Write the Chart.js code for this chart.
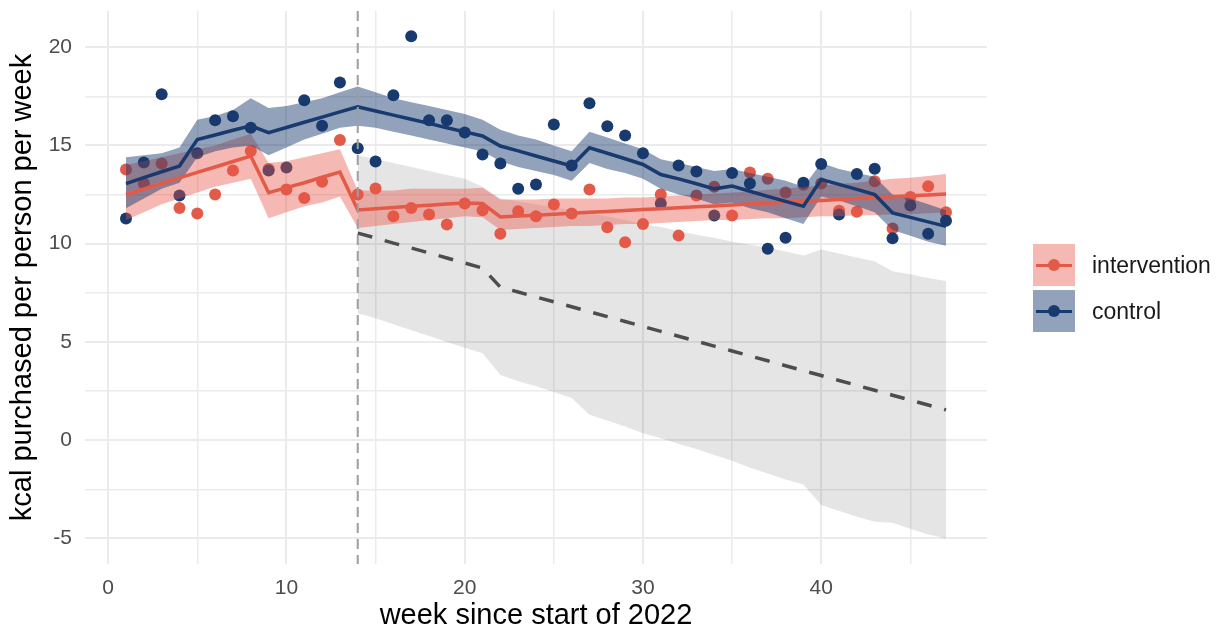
<!DOCTYPE html>
<html>
<head>
<meta charset="utf-8">
<script src="https://cdn.jsdelivr.net/npm/chart.js@4.4.0/dist/chart.umd.min.js"></script>
<style>
  body { margin: 0; background: #fff; font-family: 'Liberation Sans', Arial, sans-serif; }
  #wrap { position: relative; width: 1218px; height: 632px; }
  #legend { position: absolute; left: 1033px; top: 244px; }
  .item { display: flex; align-items: center; height: 42px; margin-bottom: 4px; }
  .key { position: relative; width: 42px; height: 42px; }
  .key .ln { position: absolute; left: 3px; right: 3px; top: 19.5px; height: 3px; }
  .key .dot { position: absolute; left: 15px; top: 15px; width: 12px; height: 12px; border-radius: 50%; }
  .item span { margin-left: 17px; font-size: 23px; color: #1a1a1a; }
</style>
</head>
<body>
<div id="wrap">
  <canvas id="chart" width="1218" height="632"></canvas>
  <div id="legend">
    <div class="item">
      <div class="key" style="background: rgba(232,86,72,0.42)">
        <div class="ln" style="background:#E35A48"></div><div class="dot" style="background:#E35A48"></div>
      </div>
      <span>intervention</span>
    </div>
    <div class="item">
      <div class="key" style="background: rgba(24,58,110,0.47)">
        <div class="ln" style="background:#183A6E"></div><div class="dot" style="background:#183A6E"></div>
      </div>
      <span>control</span>
    </div>
  </div>
</div>
<script>
// semana de inicio da intervencao
const interventionWeek = 14;

const weeks = [1, 2, 3, 4, 5, 6, 7, 8, 9, 10, 11, 12, 13, 14, 15, 16, 17, 18, 19, 20, 21, 22, 23, 24,
  25, 26, 27, 28, 29, 30, 31, 32, 33, 34, 35, 36, 37, 38, 39, 40, 41, 42, 43, 44, 45, 46, 47];

// pontos observados
const interventionObs = [13.78, 13.06, 14.08, 11.82, 11.53, 12.5, 13.72, 14.71, 13.8, 12.76,
  12.33, 13.15, 15.27, 12.5, 12.81, 11.4, 11.82, 11.48, 10.97, 12.04,
  11.7, 10.51, 11.65, 11.4, 11.99, 11.53, 12.76, 10.83, 10.07, 11.0,
  12.5, 10.41, 12.45, 12.9, 11.43, 13.62, 13.3, 12.6, 13.0, 13.06,
  11.68, 11.62, 13.18, 10.77, 12.38, 12.92, 11.6];
const controlObs = [11.28, 14.13, 17.6, 12.45, 14.6, 16.28, 16.48, 15.9, 13.72, 13.88,
  17.3, 16.0, 18.2, 14.85, 14.18, 17.55, 20.56, 16.28, 16.28, 15.66,
  14.54, 14.08, 12.8, 13.01, 16.07, 13.98, 17.14, 15.97, 15.5, 14.6,
  12.04, 13.98, 13.67, 11.43, 13.6, 13.06, 9.74, 10.3, 13.1, 14.05,
  11.48, 13.55, 13.81, 10.27, 11.94, 10.51, 11.17];

// linhas ajustadas
const interventionFit = [12.5, 12.78, 13.06, 13.35, 13.63, 13.9, 14.18, 14.46, 12.59, 12.85,
  13.1, 13.38, 13.64, 11.72, 11.78, 11.84, 11.9, 11.96, 12.02, 12.07,
  12.04, 11.36, 11.41, 11.45, 11.5, 11.55, 11.6, 11.64, 11.69, 11.74,
  11.78, 11.83, 11.88, 11.92, 11.97, 12.02, 12.06, 12.11, 12.16, 12.2,
  12.25, 12.3, 12.34, 12.39, 12.44, 12.48, 12.53];
const controlFit = [13.06, 13.36, 13.66, 13.95, 15.3, 15.53, 15.77, 16.0, 15.65, 15.91,
  16.18, 16.44, 16.71, 16.97, 16.75, 16.54, 16.33, 16.12, 15.9, 15.69,
  15.48, 14.97, 14.72, 14.46, 14.21, 13.95, 14.88, 14.6, 14.32, 14.03,
  13.52, 13.3, 13.05, 12.79, 12.93, 12.67, 12.41, 12.15, 11.9, 13.27,
  13.02, 12.76, 12.5, 11.57, 11.34, 11.11, 10.88];

// faixas de confianca
const interventionLo = [11.2, 11.6, 12.0, 12.3, 12.6, 12.9, 13.1, 13.3, 11.3, 11.6,
  11.9, 12.1, 12.4, 10.8, 10.9, 11.0, 11.1, 11.2, 11.3, 11.4,
  11.35, 10.7, 10.75, 10.8, 10.85, 10.9, 10.9, 10.95, 11.0, 11.0,
  11.05, 11.1, 11.15, 11.2, 11.2, 11.25, 11.3, 11.3, 11.35, 11.4,
  11.4, 11.45, 11.45, 11.5, 11.5, 11.55, 11.6];
const interventionHi = [14.0, 14.2, 14.4, 14.6, 14.8, 15.0, 15.3, 15.6, 14.1, 14.2,
  14.4, 14.6, 14.8, 12.7, 12.7, 12.7, 12.8, 12.8, 12.8, 12.8,
  12.85, 12.25, 12.25, 12.25, 12.3, 12.3, 12.3, 12.3, 12.35, 12.35,
  12.4, 12.45, 12.5, 12.55, 12.6, 12.65, 12.75, 12.8, 12.9, 12.95,
  13.05, 13.1, 13.2, 13.3, 13.35, 13.45, 13.55];
const controlLo = [11.8, 12.3, 12.8, 13.1, 14.4, 14.7, 14.9, 15.0, 14.5, 14.9,
  15.3, 15.6, 15.9, 16.0, 15.9, 15.7, 15.5, 15.3, 15.1, 14.9,
  14.7, 14.2, 13.9, 13.7, 13.5, 13.2, 14.1, 13.8, 13.6, 13.3,
  12.8, 12.5, 12.3, 12.0, 12.1, 11.8, 11.6, 11.3, 11.0, 12.4,
  12.2, 11.9, 11.6, 10.7, 10.4, 10.1, 9.9];
const controlHi = [14.4, 14.5, 14.6, 14.9, 16.3, 16.5, 16.8, 17.4, 16.9, 17.0,
  17.2, 17.4, 17.7, 18.0, 17.7, 17.4, 17.2, 17.0, 16.8, 16.6,
  16.3, 15.8, 15.5, 15.3, 15.0, 14.7, 15.7, 15.4, 15.1, 14.8,
  14.3, 14.1, 13.9, 13.7, 13.8, 13.6, 13.4, 13.2, 12.9, 14.1,
  13.8, 13.6, 13.4, 12.5, 12.3, 12.0, 11.7];

// contrafactual (a partir da semana 14)
const cfWeeks = weeks.slice(13);
const cfLine = [10.54, 10.29, 10.03, 9.78, 9.53, 9.27, 9.02, 8.76, 7.79, 7.54,
  7.29, 7.04, 6.79, 6.54, 6.29, 6.04, 5.79, 5.54, 5.29, 5.04,
  4.79, 4.54, 4.29, 4.04, 3.79, 3.54, 3.29, 3.04, 2.79, 2.54,
  2.29, 2.04, 1.79, 1.54];
const cfLo = [6.46, 6.2, 5.9, 5.6, 5.3, 5.0, 4.7, 4.42, 3.32, 3.0,
  2.75, 2.45, 2.15, 1.3, 1.0, 0.7, 0.35, 0.1, -0.2, -0.45,
  -0.75, -1.05, -1.4, -1.7, -2.0, -2.25, -3.3, -3.6, -3.9, -4.15,
  -4.2, -4.5, -4.8, -5.0];
const cfHi = [14.5, 14.3, 14.1, 13.9, 13.7, 13.5, 13.3, 12.9, 12.3, 12.15,
  12.0, 11.85, 11.7, 11.55, 11.4, 11.2, 11.0, 10.85, 10.65, 10.45,
  10.3, 10.1, 9.95, 9.8, 9.6, 9.4, 9.7, 9.5, 9.3, 9.1,
  8.6, 8.45, 8.25, 8.1];

const colors = {
    red: '#E35A48',
    blue: '#183A6E',
    redBand: 'rgba(232,86,72,0.42)',
    blueBand: 'rgba(24,58,110,0.47)',
    greyBand: 'rgba(0,0,0,0.1)',
    cf: '#4D4D4D',
    grid: '#EBEBEB',
    tick: '#4D4D4D',
};

function xy(xs, ys) {
    return xs.map((x, i) => ({ x: x, y: ys[i] }));
}

// faixa: dataset inferior invisivel + superior preenchendo ate o anterior
function band(xs, lo, hi, color, order) {
    return [
        { type: 'line', data: xy(xs, lo), borderWidth: 0, pointRadius: 0, fill: false, order: order },
        { type: 'line', data: xy(xs, hi), borderWidth: 0, pointRadius: 0, fill: '-1', backgroundColor: color, order: order },
    ];
}

const vlinePlugin = {
    id: 'vline',
    afterDatasetsDraw(chart) {
        const { ctx, chartArea, scales } = chart;
        const x = scales.x.getPixelForValue(interventionWeek);
        ctx.save();
        ctx.strokeStyle = '#9E9E9E';
        ctx.lineWidth = 2;
        ctx.setLineDash([10, 6]);
        ctx.beginPath();
        ctx.moveTo(x, chartArea.top);
        ctx.lineTo(x, chartArea.bottom);
        ctx.stroke();
        ctx.restore();
    }
};

const font = "'Liberation Sans', Arial, sans-serif";

new Chart(document.getElementById('chart').getContext('2d'), {
    type: 'line',
    data: {
        datasets: [
            ...band(cfWeeks, cfLo, cfHi, colors.greyBand, 5),
            ...band(weeks, controlLo, controlHi, colors.blueBand, 2),
            ...band(weeks, interventionLo, interventionHi, colors.redBand, 2),
            { type: 'scatter', data: xy(weeks, controlObs), pointRadius: 6, pointBackgroundColor: colors.blue, pointBorderWidth: 0, order: 3 },
            { type: 'scatter', data: xy(weeks, interventionObs), pointRadius: 6, pointBackgroundColor: colors.red, pointBorderWidth: 0, order: 3 },
            { type: 'line', data: xy(cfWeeks, cfLine), borderColor: colors.cf, borderWidth: 3.5, borderDash: [15, 13], pointRadius: 0, fill: false, order: 1 },
            { type: 'line', data: xy(weeks, interventionFit), borderColor: colors.red, borderWidth: 3.5, pointRadius: 0, fill: false, order: 1 },
            { type: 'line', data: xy(weeks, controlFit), borderColor: colors.blue, borderWidth: 3.5, pointRadius: 0, fill: false, order: 0 },
        ]
    },
    options: {
        responsive: false,
        animation: false,
        devicePixelRatio: 1,
        layout: { padding: { left: 0, right: 231, top: 11, bottom: 0 } },
        plugins: {
            legend: { display: false },
            tooltip: { enabled: false },
        },
        elements: { line: { tension: 0 } },
        scales: {
            x: {
                type: 'linear',
                min: -1.3,
                max: 49.3,
                afterFit: (s) => { s.height = 68; s.paddingLeft = 0; s.paddingRight = 0; },
                border: { display: false },
                grid: {
                    color: colors.grid,
                    drawTicks: false,
                    lineWidth: (c) => (c.tick && c.tick.value % 10 === 0) ? 2 : 1.5,
                },
                ticks: {
                    stepSize: 5,
                    includeBounds: false,
                    padding: 12,
                    color: colors.tick,
                    font: { family: font, size: 21 },
                    maxRotation: 0,
                    autoSkip: false,
                    callback: (v) => v % 10 === 0 ? v : '',
                },
                title: {
                    display: true,
                    text: 'week since start of 2022',
                    color: '#000',
                    font: { family: font, size: 29, lineHeight: 1.1 },
                    padding: { top: 0, bottom: 0 },
                },
            },
            y: {
                type: 'linear',
                min: -6.3,
                max: 21.84,
                afterFit: (s) => { s.width = 85; s.paddingTop = 0; s.paddingBottom = 0; },
                border: { display: false },
                grid: {
                    color: colors.grid,
                    drawTicks: false,
                    lineWidth: (c) => (c.tick && c.tick.value % 5 === 0) ? 2 : 1.5,
                },
                ticks: {
                    stepSize: 2.5,
                    includeBounds: false,
                    padding: 13,
                    color: colors.tick,
                    font: { family: font, size: 21 },
                    autoSkip: false,
                    callback: (v) => v % 5 === 0 ? v : '',
                },
                title: {
                    display: true,
                    text: 'kcal purchased per person per week',
                    color: '#000',
                    font: { family: font, size: 29 },
                    padding: { top: 6, bottom: 0 },
                },
            },
        },
    },
    plugins: [vlinePlugin],
});
</script>
</body>
</html>
